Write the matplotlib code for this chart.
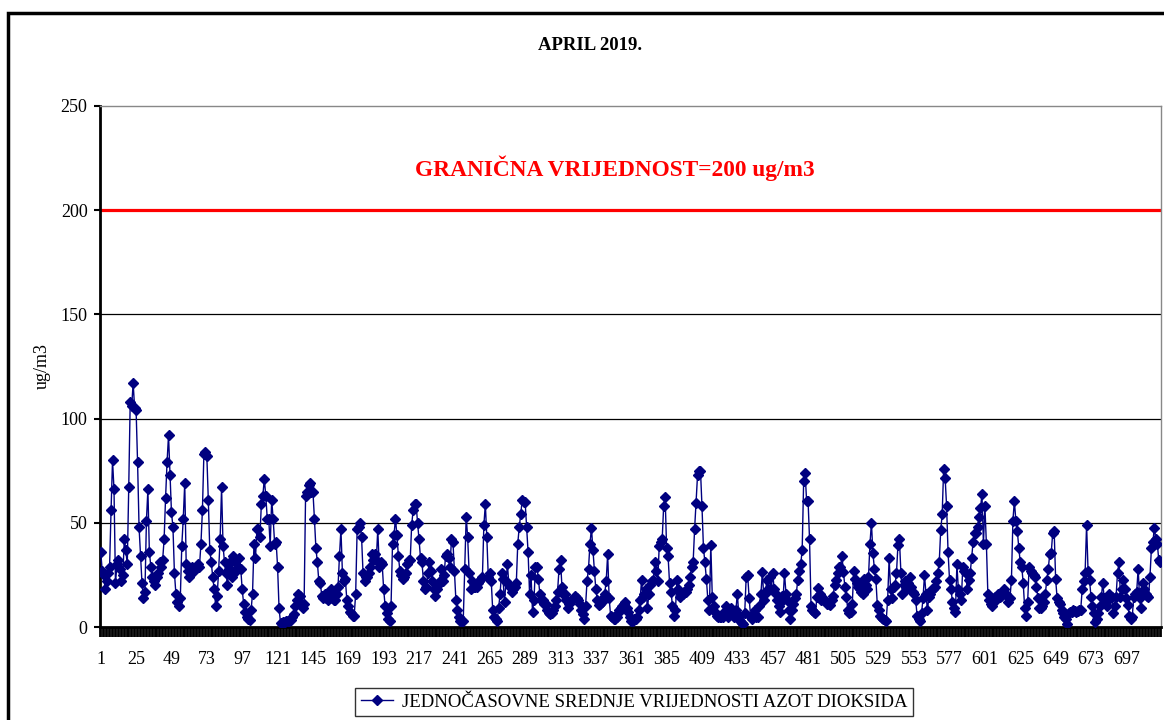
import numpy as np
import matplotlib
matplotlib.use('Agg')
from matplotlib import pyplot as plt
from matplotlib.patches import Rectangle

plt.rcParams['font.family'] = ['Liberation Serif', 'DejaVu Serif']

# hourly NO2 means for April 2019, one row per day (24 hours)
day01 = [36, 27, 25, 18, 22, 26, 29, 56, 80, 66, 21, 30, 32, 28, 22, 25, 42, 37, 30, 67, 108, 106, 117, 105]
day02 = [104, 79, 48, 34, 21, 14, 17, 51, 66, 36, 29, 24, 22, 20, 24, 26, 31, 29, 32, 42, 62, 79, 92, 73]
day03 = [55, 48, 26, 16, 12, 10, 14, 39, 52, 69, 30, 27, 24, 27, 29, 27, 28, 29, 30, 29, 40, 56, 83, 84]
day04 = [82, 61, 37, 31, 24, 18, 10, 15, 27, 42, 67, 39, 31, 26, 20, 28, 31, 24, 34, 31, 27, 29, 33, 28]
day05 = [18, 11, 7, 5, 4, 3.5, 8, 16, 40, 33, 47, 47, 43, 59, 63, 71, 63, 52, 52, 39, 61, 52, 40, 41]
day06 = [29, 9, 2, 1.6, 2.5, 2.4, 3, 2.8, 3, 3.5, 5, 6, 10, 13, 16, 15, 11, 9, 11, 63, 65, 68, 69, 65]
day07 = [65, 52, 38, 31, 22, 21, 15, 14, 16, 14, 13, 14, 18, 14, 13, 13, 16, 19, 34, 47, 26, 22, 23, 13]
day08 = [10, 7, 6.5, 5.5, 5.5, 16, 47, 48, 50, 43, 26, 22, 24, 24, 26, 29, 35, 32, 35, 32, 47, 29, 31, 30]
day09 = [18, 10, 6.5, 4, 3, 10, 40, 44, 52, 44, 34, 27, 25, 23, 24, 26, 30, 32, 32, 49, 56, 59, 59, 50]
day10 = [42, 33, 31, 22, 18, 19, 26, 31, 27, 22, 18, 15, 18, 20, 22, 28, 22, 25, 34, 35, 33, 29, 42, 41]
day11 = [27, 13, 8, 5, 3, 3, 3, 28, 53, 43, 26, 18, 22, 19, 19, 19, 21, 22, 23, 24, 49, 59, 43, 24]
day12 = [26, 22, 8, 5, 4, 3, 9, 16, 26, 23, 12, 22, 30, 20, 19, 17, 18, 19, 21, 40, 48, 54, 61, 60]
day13 = [60, 48, 36, 16, 25, 7, 13, 29, 29, 23, 16, 13, 13, 11, 11, 8, 6.5, 6, 6.5, 8, 10, 13, 17, 28]
day14 = [32, 19, 16, 16, 13, 9, 11, 13, 13, 14, 15, 14, 13, 11, 8, 6, 4, 10, 22, 28, 40, 47.5, 37, 27]
day15 = [18, 13, 10.5, 11, 12, 14, 16, 22, 35, 14, 5.5, 5, 4, 4, 5, 6.5, 8, 9, 10, 11, 12, 9, 7, 5]
day16 = [3, 3, 4, 4, 5, 8, 13, 22.5, 14.5, 16, 18, 9, 16, 20, 22, 22.5, 31, 27, 22, 39, 41, 42, 58, 62.5]
day17 = [38, 34, 21, 17, 10, 5.5, 8, 22.5, 18, 14.5, 16, 16, 17, 17, 18, 20, 24, 29, 31, 47, 59.6, 73, 75, 75]
day18 = [58, 38, 31, 23, 13, 8, 39.5, 14.5, 10, 7, 5.5, 5, 5, 5, 5, 7, 10, 7, 5, 7, 9, 7, 5, 8]
day19 = [16, 5.5, 3, 2, 1.6, 6.5, 24, 25, 14, 5, 4, 6, 8, 5, 5, 10, 16, 26.6, 13, 16, 22.5, 18, 24, 18]
day20 = [26, 18, 16, 13, 10, 7, 15, 13, 26, 16, 13, 8, 4, 8, 11, 14, 16, 22.5, 27, 30, 37, 70, 74, 60.5]
day21 = [60.5, 42, 10, 8, 7, 6.5, 14.5, 18.5, 16, 13, 13.7, 13, 12, 11, 11, 10.5, 13, 15, 20, 22.5, 26, 29, 29, 34]
day22 = [26.6, 19, 14.5, 8, 6.5, 7, 11, 27, 23, 21, 19, 18, 17, 16, 23, 20, 18, 24, 40, 50, 35.5, 28, 23, 10.5]
day23 = [8, 5.5, 4.5, 4, 3.5, 3, 13, 33, 18, 13.7, 19, 20, 26, 39.5, 42, 26, 16, 20, 22, 18, 21, 24, 19, 17]
day24 = [16, 13, 5.5, 4, 3, 6.5, 13.7, 25, 16, 8, 14.5, 16, 18, 18, 19, 22, 26, 31, 46.4, 54, 75.8, 71.7, 58, 36]
day25 = [22.5, 18, 12, 9, 7.3, 30, 18, 16, 13, 29, 27, 26, 18, 22.5, 26, 33, 41, 45, 45, 48, 53, 57, 63.7, 40]
day26 = [58, 40, 16, 13, 11, 10, 12, 14.5, 15, 16, 14.5, 15, 17, 18, 16, 15, 12, 14, 22.5, 51, 60.5, 51, 46, 38]
day27 = [31, 29, 21, 9, 5.5, 12, 29, 27, 26, 25, 24, 19, 13.7, 9, 9, 10, 12, 16, 22.5, 28, 35, 35.5, 45, 46]
day28 = [23, 13.7, 12, 11, 8, 6.5, 5, 4, 1.6, 6.5, 7, 7, 8, 7.5, 7, 7.5, 8, 8, 18, 22, 26, 49, 27, 22.5]
day29 = [14.5, 10, 6.5, 2.4, 4, 6.5, 10, 14.5, 21, 13.7, 12, 10, 16, 15, 14.5, 6.5, 10, 14.5, 26, 31, 14.5, 18, 22.5, 18]
day30 = [14, 10.5, 5.5, 4, 5, 14.5, 16, 17, 28, 13.7, 9, 21, 18, 16, 15, 14.5, 24, 38, 41, 47.5, 42, 40, 32, 31]

days = [day01, day02, day03, day04, day05, day06, day07, day08, day09, day10,
        day11, day12, day13, day14, day15, day16, day17, day18, day19, day20,
        day21, day22, day23, day24, day25, day26, day27, day28, day29, day30]
no2 = np.concatenate(days)
hours = np.arange(1, len(no2) + 1)
limit = 200
tick_hours = list(range(1, 720, 24))

fig = plt.figure(figsize=(11.64, 7.2), dpi=100)
fig.patch.set_facecolor('white')
ax = fig.add_axes([100/1164, 1 - 627/720, 1061/1164, 521/720])

# outer chart frame (cut off at right and bottom)
fig.patches.append(Rectangle((8/1164, -0.2), 1.5, 1.2 - 12.5/720, transform=fig.transFigure,
                             fill=False, edgecolor='black', linewidth=2.5))

for v in [50, 100, 150]:
    ax.axhline(v, color='black', linewidth=0.9, zorder=1)
ax.axhline(limit, color='#ff0000', linewidth=2.3, zorder=2)

ax.plot(hours, no2, color='#000080', linewidth=1, marker='D', markersize=5,
        label='JEDNOČASOVNE SREDNJE VRIJEDNOSTI AZOT DIOKSIDA', zorder=3)

ax.text(0.485, 0.881, 'GRANIČNA VRIJEDNOST=200 ug/m3', transform=ax.transAxes,
        color='#ff0000', fontsize=16.8, fontweight='bold', ha='center', va='center')

ax.set_xlim(0.5, 720.5)
ax.set_ylim(0, 250)
ax.set_yticks([0, 50, 100, 150, 200, 250])
ax.set_xticks(tick_hours)
ax.set_xticklabels([str(h) for h in tick_hours])
ax.set_xticks(np.arange(0.5, 721, 1), minor=True)
ax.tick_params(axis='x', which='major', length=0, pad=17, labelsize=13)
ax.tick_params(axis='x', which='minor', length=7, width=1.3, color='black')
ax.tick_params(axis='y', length=4, width=1.5, pad=5, labelsize=13)

ax.spines['left'].set_linewidth(2)
ax.spines['bottom'].set_linewidth(2)
ax.spines['top'].set_color('#888888')
ax.spines['right'].set_color('#888888')
ax.spines['top'].set_linewidth(1)
ax.spines['right'].set_linewidth(1)

fig.text(590/1164, 1 - 45/720, 'APRIL 2019.', ha='center', va='center',
         fontsize=13.5, fontweight='bold')
fig.text(42/1164, 1 - 366/720, 'ug/m3', rotation=90, ha='center', va='center', fontsize=13)

leg = fig.legend(loc='center', bbox_to_anchor=(634/1164, 1 - 702/720), fontsize=13.5,
                 frameon=True, fancybox=False, edgecolor='black', handlelength=1.7,
                 handletextpad=0.5, borderpad=0.3, borderaxespad=0)
leg.get_frame().set_linewidth(1)

plt.savefig('out.png', dpi=100, facecolor='white')
